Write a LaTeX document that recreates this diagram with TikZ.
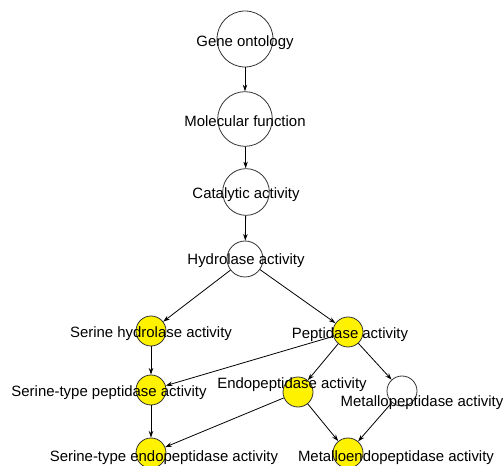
\documentclass[tikz,border=0pt]{standalone}
\usepackage{fontspec}
\setmainfont{Liberation Sans}
\usetikzlibrary{arrows.meta}
\tikzset{term/.style={circle,draw=black!80,fill=white,inner sep=0pt,line width=0.6pt},
  hit/.style={term,fill=yellow},
  lbl/.style={inner sep=0pt,yshift=-1.8pt,font=\fontsize{11.2}{13}\selectfont}}

\begin{document}
\begin{tikzpicture}[x=0.75pt,y=-0.75pt,>={Stealth[length=5pt,width=3.4pt]}]
  \useasboundingbox (0,0) rectangle (503,466);
  % terms
  \node [term,minimum size=42pt] (go) at (245,39) {};
  \node [term,minimum size=41pt] (mf) at (245,119) {};
  \node [term,minimum size=35pt] (ca) at (246,192) {};
  \node [term,minimum size=27pt] (ha) at (245,259) {};
  \node [hit,minimum size=22.5pt] (sha) at (151,331) {};
  \node [hit,minimum size=22.5pt] (pa) at (348,332) {};
  \node [hit,minimum size=22.5pt] (stpa) at (151,390) {};
  \node [hit,minimum size=22.5pt] (epa) at (298,392) {};
  \node [term,minimum size=22.5pt] (mpa) at (402,391) {};
  \node [hit,minimum size=22.5pt] (stepa) at (151,453) {};
  \node [hit,minimum size=22.5pt] (mepa) at (348,453) {};
  % is-a links
  \draw [->,line width=0.6pt] (go) -- (mf);
  \draw [->,line width=0.6pt] (mf) -- (ca);
  \draw [->,line width=0.6pt] (ca) -- (ha);
  \draw [->,line width=0.6pt] (ha) -- (sha);
  \draw [->,line width=0.6pt] (ha) -- (pa);
  \draw [->,line width=0.6pt] (sha) -- (stpa);
  \draw [->,line width=0.6pt] (pa) -- (stpa);
  \draw [->,line width=0.6pt] (pa) -- (epa);
  \draw [->,line width=0.6pt] (pa) -- (mpa);
  \draw [->,line width=0.6pt] (stpa) -- (stepa);
  \draw [->,line width=0.6pt] (epa) -- (stepa);
  \draw [->,line width=0.6pt] (epa) -- (mepa);
  \draw [->,line width=0.6pt] (mpa) -- (mepa);
  % labels
  \node [lbl] (goL) at (245,40) {Gene ontology};
  \node [lbl] (mfL) at (245,119) {Molecular function};
  \node [lbl] (caL) at (246,192) {Catalytic activity};
  \node [lbl] (haL) at (246,258) {Hydrolase activity};
  \node [lbl] (shaL) at (151,331) {Serine hydrolase activity};
  \node [lbl] (paL) at (350,332) {Peptidase activity};
  \node [lbl] (stpaL) at (109,390) {Serine-type peptidase activity};
  \node [lbl] (epaL) at (292,382) {Endopeptidase activity};
  \node [lbl] (mpaL) at (422,400) {Metallopeptidase activity};
  \node [lbl] (stepaL) at (164,455) {Serine-type endopeptidase activity};
  \node [lbl] (mepaL) at (396,455) {Metalloendopeptidase activity};
\end{tikzpicture}
\end{document}
